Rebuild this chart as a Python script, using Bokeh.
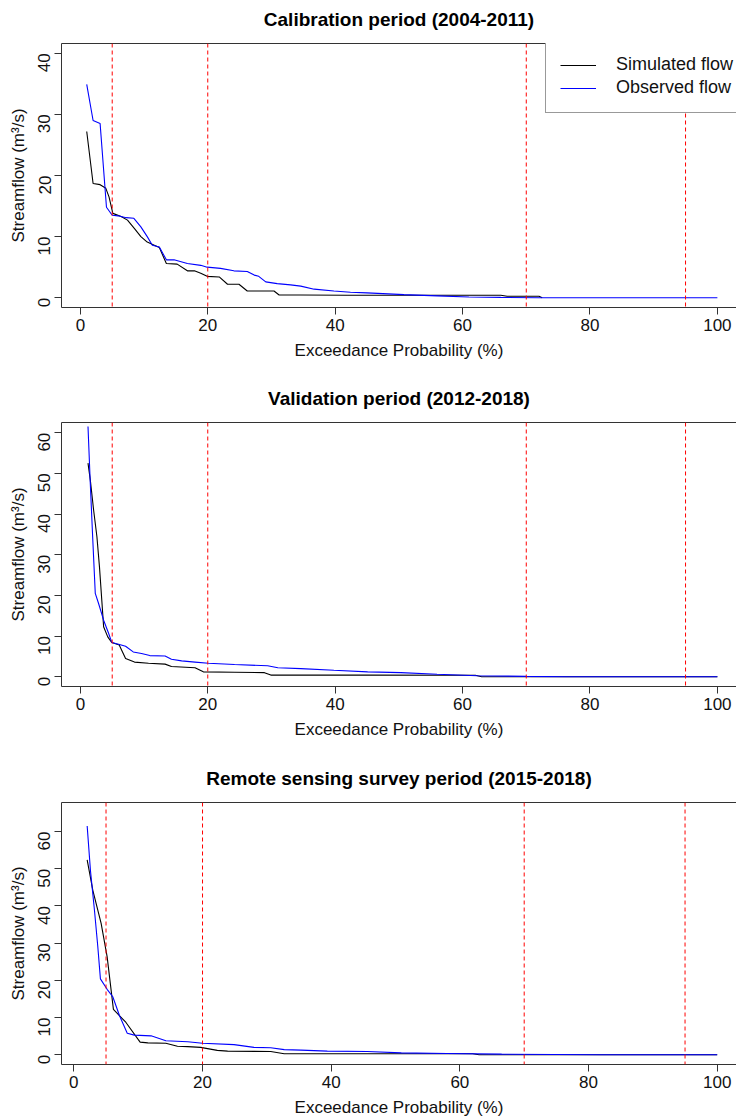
import math
from bokeh.plotting import figure
from bokeh.models import Span, Legend, LegendItem, LinearAxis, FixedTicker, Range1d
from bokeh.layouts import column
from bokeh.embed import file_html
from bokeh.resources import INLINE

# ---------------- data ----------------
titles = ["Calibration period (2004-2011)",
          "Validation period (2012-2018)",
          "Remote sensing survey period (2015-2018)"]
x_label = "Exceedance Probability (%)"
y_label = "Streamflow (m\u00b3/s)"
legend_labels = ["Simulated flow", "Observed flow"]
threshold_pcts = [5, 20, 70, 95]
x_ticks = [0, 20, 40, 60, 80, 100]
y_ticks_cal = [0, 10, 20, 30, 40]
y_ticks_val = [0, 10, 20, 30, 40, 50, 60]
y_ticks_rs = [0, 10, 20, 30, 40, 50, 60]

cal_obs_x = [1.0, 2.0, 3.1, 4.1, 5.0, 5.9, 7.2, 8.4, 9.5, 10.5, 11.3, 12.4, 13.5, 14.7, 16.8,
             18.9, 19.9, 22.0, 24.1, 26.2, 27.3, 28.0, 29.1, 30.9, 33.0, 34.6, 36.7, 39.8,
             42.4, 45.0, 50.8, 56.0, 61.0, 66.0, 72.0, 100.0]
cal_obs_y = [34.9, 29.0, 28.5, 14.8, 13.5, 13.4, 13.1, 13.0, 11.6, 10.0, 8.6, 8.3, 6.2, 6.2, 5.6,
             5.3, 5.0, 4.8, 4.4, 4.3, 3.7, 3.5, 2.6, 2.3, 2.1, 1.9, 1.4, 1.1,
             0.9, 0.8, 0.5, 0.3, 0.12, 0.05, 0.0, 0.0]
cal_sim_x = [1.0, 2.0, 3.1, 4.0, 4.5, 5.1, 6.4, 7.4, 8.5, 9.5, 10.5, 11.6, 12.4, 13.5, 15.2,
             16.8, 17.9, 18.9, 19.9, 21.8, 23.1, 24.9, 26.2, 27.8, 30.4, 31.2, 34.6, 41.9,
             50.0, 60.0, 66.0, 67.0, 72.0, 72.5]
cal_sim_y = [27.2, 18.7, 18.5, 17.9, 16.5, 13.8, 13.3, 12.7, 11.3, 10.0, 9.1, 8.6, 8.2, 5.6, 5.5,
             4.4, 4.4, 4.0, 3.5, 3.4, 2.2, 2.2, 1.1, 1.1, 1.1, 0.45, 0.45, 0.4,
             0.4, 0.4, 0.4, 0.23, 0.23, 0.0]

val_obs_x = [1.2, 1.56, 1.93, 2.34, 2.86, 3.65, 4.43, 4.95, 6.0, 7.1, 8.3, 9.6, 10.9, 13.3, 14.3,
             15.9, 18.0, 20.1, 24.2, 29.4, 31.0, 34.6, 39.8, 45.1, 50.3, 56.0, 62.3, 70.0,
             76.4, 100.0]
val_obs_y = [61.5, 47.5, 34.4, 20.5, 18.0, 13.9, 10.7, 8.4, 8.0, 7.5, 6.1, 5.7, 5.2, 5.1, 4.3,
             3.9, 3.6, 3.3, 3.0, 2.7, 2.2, 2.0, 1.6, 1.2, 1.0, 0.6, 0.25, 0.1,
             0.0, 0.0]
val_sim_x = [1.2, 1.56, 2.08, 2.6, 3.0, 3.4, 3.65, 4.3, 4.95, 6.1, 7.1, 8.5, 10.7, 13.3, 14.3,
             18.0, 19.3, 24.2, 28.9, 29.9, 45.0, 62.0, 63.0, 100.0]
val_sim_y = [52.5, 48.4, 41.0, 34.4, 27.0, 18.0, 12.3, 9.8, 8.4, 7.8, 4.5, 3.6, 3.3, 3.1, 2.5,
             2.2, 1.2, 1.1, 1.0, 0.4, 0.4, 0.35, 0.0, 0.0]

rs_obs_x = [2.07, 2.58, 3.2, 3.72, 4.13, 5.17, 6.05, 7.1, 8.3, 9.4, 12.0, 14.3, 17.7, 20.0, 24.9,
            28.0, 30.6, 32.7, 35.3, 39.4, 45.6, 50.9, 58.0, 66.5, 82.0, 100.0]
rs_obs_y = [61.5, 49.5, 38.9, 29.1, 20.4, 17.6, 15.6, 10.5, 5.8, 5.3, 5.1, 3.8, 3.5, 3.1, 2.75,
            2.0, 1.9, 1.4, 1.25, 1.0, 0.9, 0.53, 0.35, 0.18, 0.0, 0.0]
rs_sim_x = [2.07, 2.95, 4.24, 5.17, 6.15, 8.1, 10.3, 11.5, 14.3, 16.1, 17.7, 19.7, 22.3, 23.9,
            30.6, 32.7, 45.6, 62.0, 63.0, 100.0]
rs_sim_y = [52.4, 44.2, 35.3, 26.4, 12.2, 8.7, 3.4, 3.2, 3.1, 2.3, 2.2, 2.0, 1.2, 1.0,
            0.9, 0.3, 0.3, 0.3, 0.0, 0.0]

# ---------------- styling ----------------
FONT = "Liberation Sans"
AXIS_COLOR = "#333333"
FRAME_H = 264


def make_panel(title, obs_x, obs_y, sim_x, sim_y, xr, yr, yticks, top, bottom,
               with_legend=False):
    height = top + FRAME_H + bottom
    p = figure(width=736, height=height, title=None,
               x_range=Range1d(*xr), y_range=Range1d(*yr),
               output_backend="svg", toolbar_location=None,
               min_border_left=61, min_border_right=0,
               min_border_top=top, min_border_bottom=bottom,
               background_fill_color="white", border_fill_color="white",
               outline_line_color=None)
    p.grid.visible = False

    for ax in (p.xaxis[0], p.yaxis[0]):
        ax.axis_line_color = AXIS_COLOR
        ax.major_tick_line_color = AXIS_COLOR
        ax.major_tick_out = 7
        ax.major_tick_in = 0
        ax.minor_tick_line_color = None
        ax.major_label_text_font = FONT
        ax.major_label_text_font_size = "17px"
        ax.major_label_text_color = "#111111"
        ax.axis_label_text_font = FONT
        ax.axis_label_text_font_size = "17px"
        ax.axis_label_text_font_style = "normal"
        ax.axis_label_text_color = "#111111"

    p.xaxis[0].ticker = FixedTicker(ticks=x_ticks)
    p.xaxis[0].axis_label = x_label
    p.xaxis[0].major_label_standoff = 4
    p.xaxis[0].axis_label_standoff = 7

    p.yaxis[0].ticker = FixedTicker(ticks=yticks)
    p.yaxis[0].axis_label = y_label
    p.yaxis[0].major_label_orientation = math.pi / 2
    p.yaxis[0].major_label_standoff = 10
    p.yaxis[0].axis_label_standoff = 2

    # top axis: box top edge + panel title
    top_ax = LinearAxis(ticker=FixedTicker(ticks=[]), axis_label=title,
                        major_tick_out=0, major_tick_in=0, major_label_standoff=0,
                        axis_label_standoff=14, axis_line_color=AXIS_COLOR,
                        axis_label_text_font=FONT, axis_label_text_font_size="19px",
                        axis_label_text_font_style="bold", axis_label_text_color="#000000")
    p.add_layout(top_ax, "above")

    for xv in threshold_pcts:
        p.add_layout(Span(location=xv, dimension="height", line_color="#ff0000",
                          line_width=1, line_dash="4 3"))

    r_sim = p.line(sim_x, sim_y, line_color="black", line_width=1.1)
    r_obs = p.line(obs_x, obs_y, line_color="#0000ff", line_width=1.1)

    if with_legend:
        leg = Legend(items=[LegendItem(label=legend_labels[0], renderers=[r_sim]),
                            LegendItem(label=legend_labels[1], renderers=[r_obs])],
                     location=(484, FRAME_H - 70), margin=0, padding=14,
                     spacing=2, glyph_width=36, glyph_height=20, label_height=20,
                     label_standoff=20, label_text_font=FONT, label_text_font_size="18px",
                     label_text_color="#111111",
                     border_line_color=AXIS_COLOR, border_line_width=1,
                     background_fill_color="white", background_fill_alpha=1.0)
        p.add_layout(leg, "center")
    return p


p1 = make_panel(titles[0], cal_obs_x, cal_obs_y, cal_sim_x, cal_sim_y,
                (-2.96, 103.0), (-1.6, 41.6), y_ticks_cal, 43, 72, with_legend=True)
p2 = make_panel(titles[1], val_obs_x, val_obs_y, val_sim_x, val_sim_y,
                (-2.96, 103.0), (-2.4, 62.5), y_ticks_val, 43, 73)
p3 = make_panel(titles[2], rs_obs_x, rs_obs_y, rs_sim_x, rs_sim_y,
                (-1.92, 103.0), (-2.6, 67.8), y_ticks_rs, 43, 53)

layout = column(p1, p2, p3, spacing=0)
open("out.html", "w").write(file_html(layout, INLINE))
